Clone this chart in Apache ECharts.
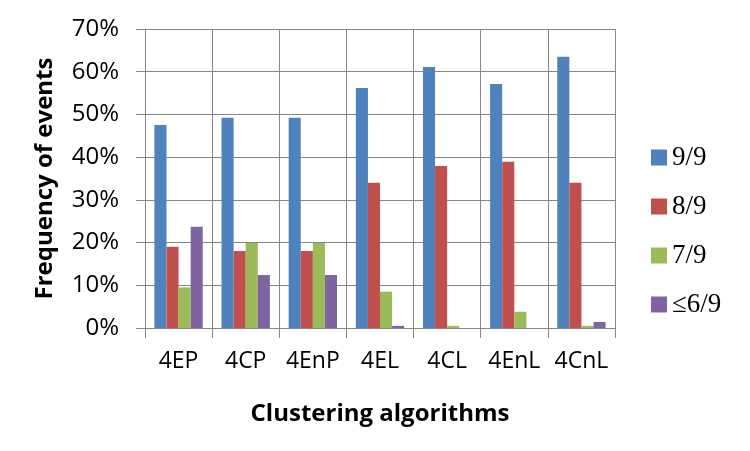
<!DOCTYPE html>
<html>
<head>
<meta charset="utf-8">
<script src="https://cdn.jsdelivr.net/npm/echarts@6/dist/echarts.min.js"></script>
<style>html,body{margin:0;padding:0;background:#fff;}#c{width:750px;height:451px;}</style>
</head>
<body>
<div id="c"></div>
<script>
const categories = ['4EP', '4CP', '4EnP', '4EL', '4CL', '4EnL', '4CnL'];
const seriesNames = ['9/9', '8/9', '7/9', '\u22646/9'];
const s99 = [47.5, 49.2, 49.2, 56.2, 61.1, 57.1, 63.5];
const s89 = [19.0, 18.0, 18.0, 34.0, 37.9, 38.9, 34.0];
const s79 = [9.5, 19.9, 19.9, 8.5, 0.5, 3.8, 0.5];
const s69 = [23.7, 12.4, 12.4, 0.5, 0, 0, 1.4];
const colors = ['#4F81BD', '#C0504D', '#9BBB59', '#8064A2'];

const gridColor = '#868686';
const font = 'Open Sans';
const chart = echarts.init(document.getElementById('c'), null, {renderer: 'canvas'});
const allData = [s99, s89, s79, s69];
chart.setOption({
  animation: false,
  color: colors,
  grid: {left: 145, right: 135, top: 29, bottom: 123, containLabel: false},
  legend: {
    orient: 'vertical', left: 646, top: 139,
    itemWidth: 16, itemHeight: 16, itemGap: 22, icon: 'rect',
    textStyle: {fontFamily: 'Liberation Serif', fontSize: 27, color: '#000'},
    data: seriesNames
  },
  xAxis: {
    type: 'category', data: categories,
    name: 'Clustering algorithms', nameLocation: 'middle', nameGap: 74,
    nameTextStyle: {fontFamily: font, fontSize: 24, fontWeight: 'bold', color: '#000'},
    axisLine: {show: true, lineStyle: {color: gridColor, width: 1}},
    axisTick: {show: true, interval: 0, length: 10, inside: false, lineStyle: {color: gridColor}},
    axisLabel: {interval: 0, fontFamily: font, fontSize: 23, color: '#000', margin: 22},
    splitLine: {show: true, interval: 0, lineStyle: {color: gridColor, width: 1}}
  },
  yAxis: {
    type: 'value', min: 0, max: 70, interval: 10,
    name: 'Frequency of events', nameLocation: 'middle', nameGap: 88,
    nameTextStyle: {fontFamily: font, fontSize: 24, fontWeight: 'bold', color: '#000'},
    axisLine: {show: true, lineStyle: {color: gridColor, width: 1}},
    axisTick: {show: true, length: 9, inside: false, lineStyle: {color: gridColor}},
    axisLabel: {fontFamily: font, fontSize: 24, color: '#000', margin: 26, formatter: '{value}%'},
    splitLine: {show: true, lineStyle: {color: gridColor, width: 1}}
  },
  series: seriesNames.map((n, i) => ({
    name: n, type: 'bar', data: allData[i],
    barGap: '0%', barCategoryGap: '28%'
  }))
});
</script>
</body>
</html>
